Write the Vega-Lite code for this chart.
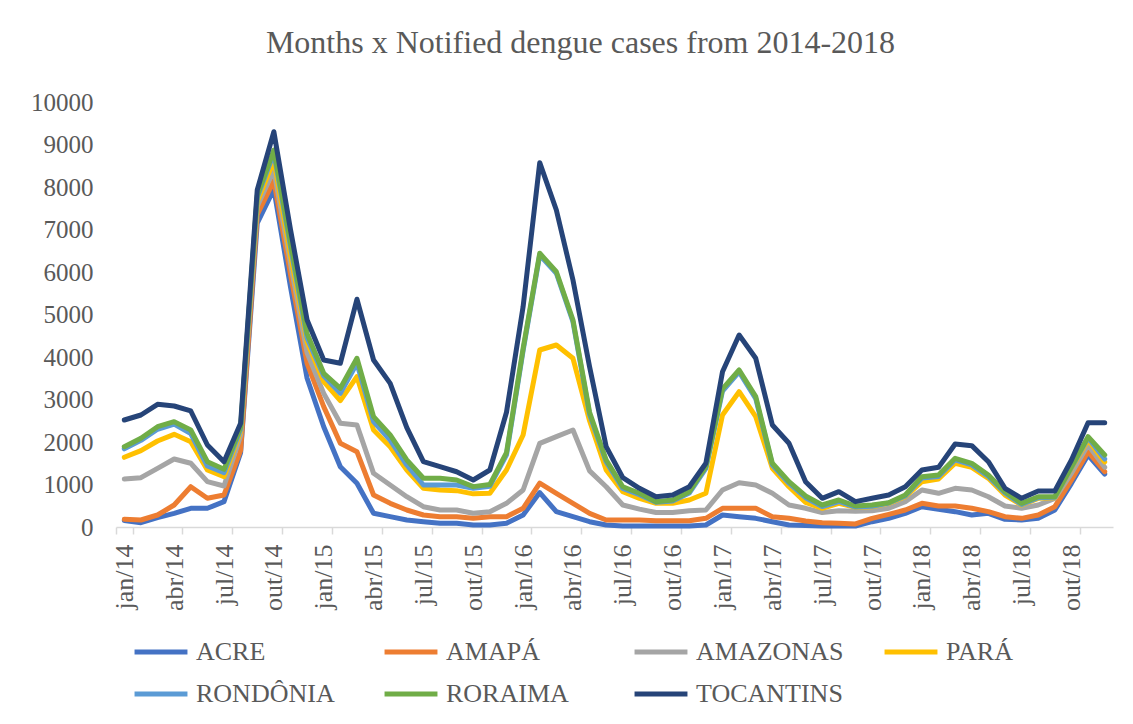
{
  "$schema": "https://vega.github.io/schema/vega-lite/v6.json",
  "width": 997,
  "height": 425,
  "autosize": {"type": "none"},
  "padding": {"left": 116, "top": 102, "right": 20, "bottom": 197},
  "background": "white",
  "config": {"view": {"stroke": null}, "font": "Liberation Serif"},
  "title": {
    "text": "Months x Notified dengue cases from 2014-2018",
    "font": "Liberation Serif",
    "fontSize": 32,
    "fontWeight": "normal",
    "color": "#595959",
    "anchor": "middle",
    "frame": "group",
    "dx": -34,
    "offset": 30
  },
  "data": {
    "values": [
      {"m": "jan/14", "ACRE": 150, "AMAPÁ": 181, "AMAZONAS": 1129, "PARÁ": 1640, "RONDÔNIA": 1840, "RORAIMA": 1890, "TOCANTINS": 2518},
      {"m": "fev/14", "ACRE": 101, "AMAPÁ": 165, "AMAZONAS": 1161, "PARÁ": 1796, "RONDÔNIA": 2040, "RORAIMA": 2087, "TOCANTINS": 2635},
      {"m": "mar/14", "ACRE": 219, "AMAPÁ": 282, "AMAZONAS": 1380, "PARÁ": 2024, "RONDÔNIA": 2300, "RORAIMA": 2360, "TOCANTINS": 2887},
      {"m": "abr/14", "ACRE": 322, "AMAPÁ": 518, "AMAZONAS": 1600, "PARÁ": 2181, "RONDÔNIA": 2420, "RORAIMA": 2478, "TOCANTINS": 2847},
      {"m": "mai/14", "ACRE": 440, "AMAPÁ": 948, "AMAZONAS": 1499, "PARÁ": 2007, "RONDÔNIA": 2200, "RORAIMA": 2282, "TOCANTINS": 2730},
      {"m": "jun/14", "ACRE": 440, "AMAPÁ": 675, "AMAZONAS": 1066, "PARÁ": 1341, "RONDÔNIA": 1435, "RORAIMA": 1537, "TOCANTINS": 1930},
      {"m": "jul/14", "ACRE": 596, "AMAPÁ": 753, "AMAZONAS": 965, "PARÁ": 1184, "RONDÔNIA": 1278, "RORAIMA": 1357, "TOCANTINS": 1537},
      {"m": "ago/14", "ACRE": 1750, "AMAPÁ": 1800, "AMAZONAS": 2150, "PARÁ": 2250, "RONDÔNIA": 2300, "RORAIMA": 2350, "TOCANTINS": 2440},
      {"m": "set/14", "ACRE": 7150, "AMAPÁ": 7350, "AMAZONAS": 7550, "PARÁ": 7650, "RONDÔNIA": 7750, "RORAIMA": 7800, "TOCANTINS": 7930},
      {"m": "out/14", "ACRE": 7950, "AMAPÁ": 8150, "AMAZONAS": 8400, "PARÁ": 8635, "RONDÔNIA": 8800, "RORAIMA": 8870, "TOCANTINS": 9300},
      {"m": "nov/14", "ACRE": 5650, "AMAPÁ": 5950, "AMAZONAS": 6200, "PARÁ": 6400, "RONDÔNIA": 6600, "RORAIMA": 6700, "TOCANTINS": 7000},
      {"m": "dez/14", "ACRE": 3500, "AMAPÁ": 3850, "AMAZONAS": 4100, "PARÁ": 4350, "RONDÔNIA": 4450, "RORAIMA": 4550, "TOCANTINS": 4870},
      {"m": "jan/15", "ACRE": 2360, "AMAPÁ": 2832, "AMAZONAS": 3145, "PARÁ": 3420, "RONDÔNIA": 3560, "RORAIMA": 3616, "TOCANTINS": 3930},
      {"m": "fev/15", "ACRE": 1419, "AMAPÁ": 1969, "AMAZONAS": 2440, "PARÁ": 2973, "RONDÔNIA": 3145, "RORAIMA": 3263, "TOCANTINS": 3852},
      {"m": "mar/15", "ACRE": 1028, "AMAPÁ": 1772, "AMAZONAS": 2400, "PARÁ": 3537, "RONDÔNIA": 3852, "RORAIMA": 3970, "TOCANTINS": 5358},
      {"m": "abr/15", "ACRE": 322, "AMAPÁ": 753, "AMAZONAS": 1263, "PARÁ": 2282, "RONDÔNIA": 2478, "RORAIMA": 2596, "TOCANTINS": 3930},
      {"m": "mai/15", "ACRE": 243, "AMAPÁ": 557, "AMAZONAS": 988, "PARÁ": 1890, "RONDÔNIA": 2047, "RORAIMA": 2165, "TOCANTINS": 3380},
      {"m": "jun/15", "ACRE": 165, "AMAPÁ": 400, "AMAZONAS": 713, "PARÁ": 1341, "RONDÔNIA": 1459, "RORAIMA": 1577, "TOCANTINS": 2340},
      {"m": "jul/15", "ACRE": 125, "AMAPÁ": 282, "AMAZONAS": 478, "PARÁ": 911, "RONDÔNIA": 988, "RORAIMA": 1146, "TOCANTINS": 1537},
      {"m": "ago/15", "ACRE": 87, "AMAPÁ": 243, "AMAZONAS": 400, "PARÁ": 870, "RONDÔNIA": 988, "RORAIMA": 1146, "TOCANTINS": 1420},
      {"m": "set/15", "ACRE": 87, "AMAPÁ": 243, "AMAZONAS": 400, "PARÁ": 855, "RONDÔNIA": 988, "RORAIMA": 1106, "TOCANTINS": 1300},
      {"m": "out/15", "ACRE": 47, "AMAPÁ": 204, "AMAZONAS": 322, "PARÁ": 780, "RONDÔNIA": 910, "RORAIMA": 950, "TOCANTINS": 1106},
      {"m": "nov/15", "ACRE": 47, "AMAPÁ": 243, "AMAZONAS": 361, "PARÁ": 793, "RONDÔNIA": 960, "RORAIMA": 1000, "TOCANTINS": 1341},
      {"m": "dez/15", "ACRE": 87, "AMAPÁ": 243, "AMAZONAS": 557, "PARÁ": 1341, "RONDÔNIA": 1700, "RORAIMA": 1750, "TOCANTINS": 2700},
      {"m": "jan/16", "ACRE": 282, "AMAPÁ": 440, "AMAZONAS": 870, "PARÁ": 2165, "RONDÔNIA": 4150, "RORAIMA": 4200, "TOCANTINS": 5183},
      {"m": "fev/16", "ACRE": 810, "AMAPÁ": 1030, "AMAZONAS": 1969, "PARÁ": 4165, "RONDÔNIA": 6400, "RORAIMA": 6440, "TOCANTINS": 8572},
      {"m": "mar/16", "ACRE": 361, "AMAPÁ": 793, "AMAZONAS": 2125, "PARÁ": 4282, "RONDÔNIA": 5970, "RORAIMA": 6007, "TOCANTINS": 7459},
      {"m": "abr/16", "ACRE": 243, "AMAPÁ": 557, "AMAZONAS": 2282, "PARÁ": 3970, "RONDÔNIA": 4830, "RORAIMA": 4870, "TOCANTINS": 5812},
      {"m": "mai/16", "ACRE": 125, "AMAPÁ": 322, "AMAZONAS": 1320, "PARÁ": 2500, "RONDÔNIA": 2650, "RORAIMA": 2700, "TOCANTINS": 3772},
      {"m": "jun/16", "ACRE": 47, "AMAPÁ": 165, "AMAZONAS": 948, "PARÁ": 1341, "RONDÔNIA": 1530, "RORAIMA": 1577, "TOCANTINS": 1890},
      {"m": "jul/16", "ACRE": 24, "AMAPÁ": 165, "AMAZONAS": 518, "PARÁ": 831, "RONDÔNIA": 910, "RORAIMA": 948, "TOCANTINS": 1160},
      {"m": "ago/16", "ACRE": 24, "AMAPÁ": 165, "AMAZONAS": 420, "PARÁ": 675, "RONDÔNIA": 760, "RORAIMA": 793, "TOCANTINS": 911},
      {"m": "set/16", "ACRE": 24, "AMAPÁ": 149, "AMAZONAS": 340, "PARÁ": 557, "RONDÔNIA": 580, "RORAIMA": 596, "TOCANTINS": 713},
      {"m": "out/16", "ACRE": 24, "AMAPÁ": 149, "AMAZONAS": 340, "PARÁ": 557, "RONDÔNIA": 610, "RORAIMA": 635, "TOCANTINS": 753},
      {"m": "nov/16", "ACRE": 24, "AMAPÁ": 149, "AMAZONAS": 380, "PARÁ": 635, "RONDÔNIA": 800, "RORAIMA": 831, "TOCANTINS": 948},
      {"m": "dez/16", "ACRE": 47, "AMAPÁ": 204, "AMAZONAS": 400, "PARÁ": 793, "RONDÔNIA": 1380, "RORAIMA": 1419, "TOCANTINS": 1499},
      {"m": "jan/17", "ACRE": 282, "AMAPÁ": 440, "AMAZONAS": 870, "PARÁ": 2635, "RONDÔNIA": 3200, "RORAIMA": 3250, "TOCANTINS": 3654},
      {"m": "fev/17", "ACRE": 243, "AMAPÁ": 440, "AMAZONAS": 1043, "PARÁ": 3184, "RONDÔNIA": 3650, "RORAIMA": 3694, "TOCANTINS": 4518},
      {"m": "mar/17", "ACRE": 204, "AMAPÁ": 440, "AMAZONAS": 988, "PARÁ": 2596, "RONDÔNIA": 3020, "RORAIMA": 3066, "TOCANTINS": 3970},
      {"m": "abr/17", "ACRE": 125, "AMAPÁ": 243, "AMAZONAS": 793, "PARÁ": 1380, "RONDÔNIA": 1460, "RORAIMA": 1499, "TOCANTINS": 2400},
      {"m": "mai/17", "ACRE": 47, "AMAPÁ": 204, "AMAZONAS": 518, "PARÁ": 948, "RONDÔNIA": 1030, "RORAIMA": 1066, "TOCANTINS": 1970},
      {"m": "jun/17", "ACRE": 35, "AMAPÁ": 140, "AMAZONAS": 440, "PARÁ": 580, "RONDÔNIA": 690, "RORAIMA": 730, "TOCANTINS": 1066},
      {"m": "jul/17", "ACRE": 24, "AMAPÁ": 101, "AMAZONAS": 340, "PARÁ": 440, "RONDÔNIA": 480, "RORAIMA": 518, "TOCANTINS": 675},
      {"m": "ago/17", "ACRE": 24, "AMAPÁ": 87, "AMAZONAS": 380, "PARÁ": 557, "RONDÔNIA": 600, "RORAIMA": 635, "TOCANTINS": 831},
      {"m": "set/17", "ACRE": 24, "AMAPÁ": 71, "AMAZONAS": 370, "PARÁ": 463, "RONDÔNIA": 470, "RORAIMA": 494, "TOCANTINS": 596},
      {"m": "out/17", "ACRE": 125, "AMAPÁ": 204, "AMAZONAS": 380, "PARÁ": 478, "RONDÔNIA": 490, "RORAIMA": 518, "TOCANTINS": 675},
      {"m": "nov/17", "ACRE": 204, "AMAPÁ": 298, "AMAZONAS": 440, "PARÁ": 557, "RONDÔNIA": 565, "RORAIMA": 572, "TOCANTINS": 753},
      {"m": "dez/17", "ACRE": 322, "AMAPÁ": 400, "AMAZONAS": 596, "PARÁ": 713, "RONDÔNIA": 730, "RORAIMA": 753, "TOCANTINS": 948},
      {"m": "jan/18", "ACRE": 478, "AMAPÁ": 557, "AMAZONAS": 870, "PARÁ": 1066, "RONDÔNIA": 1150, "RORAIMA": 1184, "TOCANTINS": 1341},
      {"m": "fev/18", "ACRE": 416, "AMAPÁ": 494, "AMAZONAS": 793, "PARÁ": 1129, "RONDÔNIA": 1190, "RORAIMA": 1223, "TOCANTINS": 1404},
      {"m": "mar/18", "ACRE": 361, "AMAPÁ": 494, "AMAZONAS": 911, "PARÁ": 1499, "RONDÔNIA": 1580, "RORAIMA": 1616, "TOCANTINS": 1953},
      {"m": "abr/18", "ACRE": 282, "AMAPÁ": 440, "AMAZONAS": 870, "PARÁ": 1404, "RONDÔNIA": 1460, "RORAIMA": 1499, "TOCANTINS": 1914},
      {"m": "mai/18", "ACRE": 322, "AMAPÁ": 361, "AMAZONAS": 713, "PARÁ": 1146, "RONDÔNIA": 1190, "RORAIMA": 1223, "TOCANTINS": 1537},
      {"m": "jun/18", "ACRE": 181, "AMAPÁ": 243, "AMAZONAS": 494, "PARÁ": 753, "RONDÔNIA": 800, "RORAIMA": 831, "TOCANTINS": 911},
      {"m": "jul/18", "ACRE": 165, "AMAPÁ": 204, "AMAZONAS": 440, "PARÁ": 518, "RONDÔNIA": 530, "RORAIMA": 557, "TOCANTINS": 675},
      {"m": "ago/18", "ACRE": 204, "AMAPÁ": 282, "AMAZONAS": 518, "PARÁ": 675, "RONDÔNIA": 690, "RORAIMA": 713, "TOCANTINS": 847},
      {"m": "set/18", "ACRE": 400, "AMAPÁ": 478, "AMAZONAS": 675, "PARÁ": 690, "RONDÔNIA": 700, "RORAIMA": 713, "TOCANTINS": 847},
      {"m": "out/18", "ACRE": 1028, "AMAPÁ": 1106, "AMAZONAS": 1263, "PARÁ": 1380, "RONDÔNIA": 1400, "RORAIMA": 1419, "TOCANTINS": 1577},
      {"m": "nov/18", "ACRE": 1694, "AMAPÁ": 1772, "AMAZONAS": 1929, "PARÁ": 2050, "RONDÔNIA": 2100, "RORAIMA": 2125, "TOCANTINS": 2455},
      {"m": "dez/18", "ACRE": 1247, "AMAPÁ": 1301, "AMAZONAS": 1404, "PARÁ": 1530, "RONDÔNIA": 1600, "RORAIMA": 1694, "TOCANTINS": 2455}
    ]
  },
  "transform": [
    {"fold": ["ACRE", "AMAPÁ", "AMAZONAS", "PARÁ", "RONDÔNIA", "RORAIMA", "TOCANTINS"], "as": ["s", "v"]}
  ],
  "mark": {"type": "line", "strokeWidth": 5, "strokeJoin": "round", "strokeCap": "round"},
  "encoding": {
    "x": {
      "field": "m",
      "type": "ordinal",
      "sort": null,
      "bandPosition": 0.5,
      "scale": {"type": "band", "paddingInner": 0, "paddingOuter": 0},
      "axis": {
        "title": null,
        "values": ["jan/14", "abr/14", "jul/14", "out/14", "jan/15", "abr/15", "jul/15", "out/15", "jan/16", "abr/16", "jul/16", "out/16", "jan/17", "abr/17", "jul/17", "out/17", "jan/18", "abr/18", "jul/18", "out/18"],
        "tickBand": "extent",
        "labelAngle": -90,
        "labelFont": "Liberation Serif",
        "labelFontSize": 26,
        "labelColor": "#595959",
        "domainColor": "#D9D9D9",
        "domainWidth": 1.5,
        "tickColor": "#D9D9D9",
        "tickWidth": 1.5,
        "tickSize": 7,
        "labelPadding": 10,
        "grid": false
      }
    },
    "y": {
      "field": "v",
      "type": "quantitative",
      "scale": {"domain": [0, 10000], "nice": false},
      "axis": {
        "title": null,
        "values": [0, 1000, 2000, 3000, 4000, 5000, 6000, 7000, 8000, 9000, 10000],
        "format": "d",
        "domain": false,
        "ticks": false,
        "grid": false,
        "labelFont": "Liberation Serif",
        "labelFontSize": 25,
        "labelColor": "#595959",
        "labelPadding": 23
      }
    },
    "color": {
      "field": "s",
      "type": "nominal",
      "scale": {
        "domain": ["ACRE", "AMAPÁ", "AMAZONAS", "PARÁ", "RONDÔNIA", "RORAIMA", "TOCANTINS"],
        "range": ["#4472C4", "#ED7D31", "#A5A5A5", "#FFC000", "#5B9BD5", "#70AD47", "#264478"]
      },
      "legend": {
        "orient": "none",
        "legendX": 16,
        "legendY": 521,
        "direction": "horizontal",
        "columns": 4,
        "title": null,
        "symbolType": "stroke",
        "symbolSize": 2800,
        "symbolStrokeWidth": 5,
        "labelFont": "Liberation Serif",
        "labelFontSize": 26,
        "labelColor": "#595959",
        "labelOffset": 6,
        "labelLimit": 400,
        "columnPadding": 30,
        "rowPadding": -11,
        "gridAlign": "all"
      }
    }
  }
}
